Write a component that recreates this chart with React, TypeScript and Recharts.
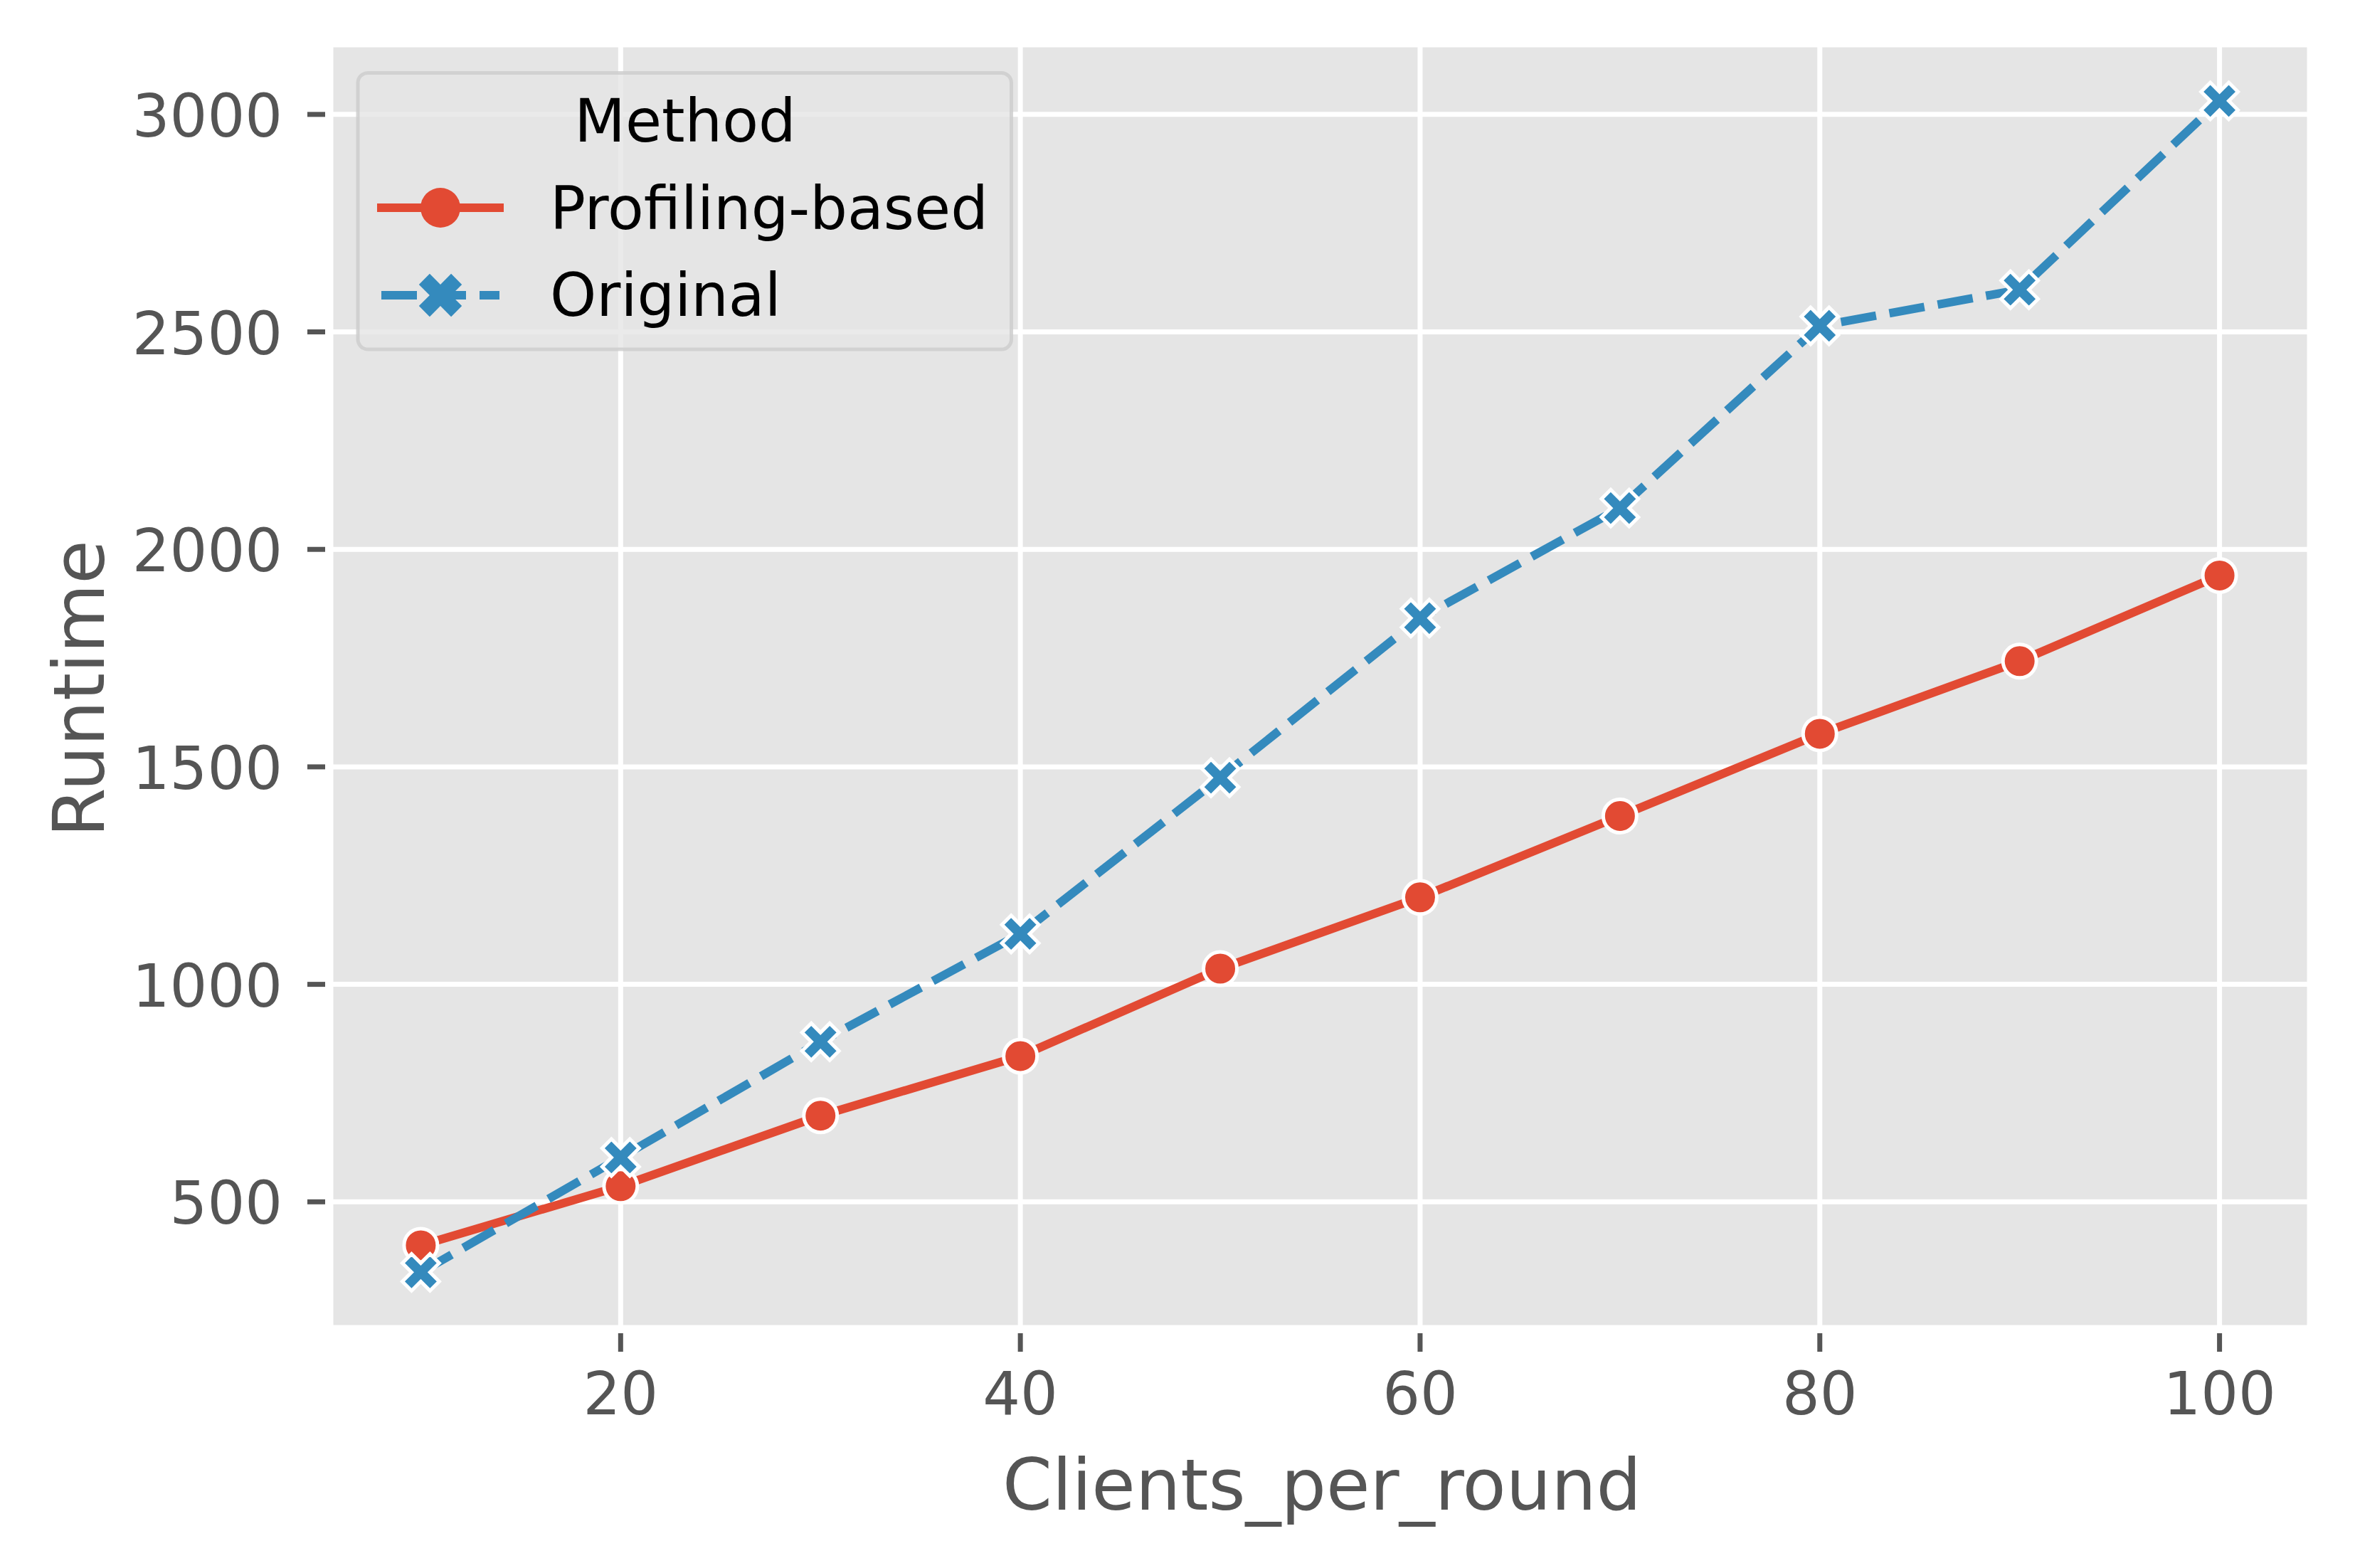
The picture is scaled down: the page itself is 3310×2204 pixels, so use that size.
import React from 'react';
import { LineChart, Line, XAxis, YAxis, CartesianGrid } from 'recharts';

const clientsPerRound = [10, 20, 30, 40, 50, 60, 70, 80, 90, 100];
const profilingBased = [400, 536, 698, 835, 1036, 1200, 1387, 1576, 1743, 1940];
const original = [338, 602, 868, 1116, 1475, 1842, 2095, 2514, 2597, 3031];
const xTicks = [20, 40, 60, 80, 100];
const yTicks = [500, 1000, 1500, 2000, 2500, 3000];
const seriesNames = ['Profiling-based', 'Original'];
const legendTitle = 'Method';

const RED = '#E24A33';
const BLUE = '#348ABD';
const FONT = '"DejaVu Sans", sans-serif';

const data = clientsPerRound.map((c, i) => ({
  x: c,
  profiling: profilingBased[i],
  original: original[i],
}));

function xMarkerPath(cx: number, cy: number, size: number): string {
  const pts = [
    [-1, -3], [1, -3], [1, -1], [3, -1], [3, 1], [1, 1],
    [1, 3], [-1, 3], [-1, 1], [-3, 1], [-3, -1], [-1, -1],
  ];
  const s = size / 6;
  const r = Math.SQRT1_2;
  return (
    pts
      .map(([px, py], i) => {
        const rx = (px - py) * r * s + cx;
        const ry = (px + py) * r * s + cy;
        return `${i === 0 ? 'M' : 'L'}${rx.toFixed(2)},${ry.toFixed(2)}`;
      })
      .join(' ') + ' Z'
  );
}

const CircleDot = (props: any) => {
  const { cx, cy, index } = props;
  if (cx == null || cy == null) return <g key={`c-${index}`} />;
  return (
    <circle key={`c-${index}`} cx={cx} cy={cy} r={23.5} fill={RED} stroke="#ffffff" strokeWidth={5} />
  );
};

const XDot = (props: any) => {
  const { cx, cy, index } = props;
  if (cx == null || cy == null) return <g key={`x-${index}`} />;
  return (
    <path
      key={`x-${index}`}
      d={xMarkerPath(cx, cy, 55)}
      fill={BLUE}
      stroke="#ffffff"
      strokeWidth={5}
      strokeLinejoin="miter"
    />
  );
};

const XTick = (props: any) => {
  const { x, y, payload } = props;
  return (
    <g>
      <line x1={x} x2={x} y1={y + 8} y2={y + 34} stroke="#555555" strokeWidth={7} />
      <text x={x} y={y + 122} textAnchor="middle" fontSize={83} fontFamily={FONT} fill="#555555">
        {payload.value}
      </text>
    </g>
  );
};

const YTick = (props: any) => {
  const { x, y, payload } = props;
  return (
    <g>
      <line x1={x - 33} x2={x - 8} y1={y} y2={y} stroke="#555555" strokeWidth={7} />
      <text x={x - 68} y={y + 31} textAnchor="end" fontSize={83} fontFamily={FONT} fill="#555555">
        {payload.value}
      </text>
    </g>
  );
};

const LegendOverlay = () => (
  <svg
    width={3310}
    height={2204}
    style={{ position: 'absolute', left: 0, top: 0, pointerEvents: 'none' }}
  >
    <rect
      x={503}
      y={102.5}
      width={918.5}
      height={388.5}
      rx={14}
      ry={14}
      fill="#E5E5E5"
      fillOpacity={0.8}
      stroke="#CCCCCC"
      strokeOpacity={0.8}
      strokeWidth={5}
    />
    <text x={963} y={199} textAnchor="middle" fontSize={83} fontFamily={FONT} fill="#000000">
      {legendTitle}
    </text>
    <line x1={530} x2={708} y1={292} y2={292} stroke={RED} strokeWidth={12} />
    <circle cx={619} cy={292} r={28} fill={RED} />
    <text x={773} y={322} fontSize={83} fontFamily={FONT} fill="#000000">
      {seriesNames[0]}
    </text>
    <line x1={536} x2={702} y1={415} y2={415} stroke={BLUE} strokeWidth={12} strokeDasharray="50 19" />
    <path d={xMarkerPath(619, 415, 64)} fill={BLUE} />
    <text x={773} y={444} fontSize={83} fontFamily={FONT} fill="#000000">
      {seriesNames[1]}
    </text>
  </svg>
);

export default function App() {
  return (
    <div style={{ position: 'absolute', left: 0, top: 0, width: 3310, height: 2204, background: '#ffffff' }}>
      <LineChart
        width={3310}
        height={2204}
        data={data}
        margin={{ top: 63, right: 64, bottom: 0, left: 0 }}
      >
        <CartesianGrid
          fill="#E5E5E5"
          fillOpacity={1}
          stroke="#ffffff"
          strokeWidth={7}
          horizontal={true}
          vertical={true}
        />
        <XAxis
          dataKey="x"
          type="number"
          domain={[5.5, 104.5]}
          ticks={xTicks}
          allowDataOverflow={true}
          axisLine={false}
          tickLine={false}
          tickSize={0}
          tickMargin={0}
          height={338}
          tick={<XTick />}
          interval={0}
        />
        <YAxis
          type="number"
          domain={[211, 3160]}
          ticks={yTicks}
          allowDataOverflow={true}
          axisLine={false}
          tickLine={false}
          tickSize={0}
          tickMargin={0}
          width={465}
          tick={<YTick />}
          interval={0}
        />
        <Line
          type="linear"
          dataKey="profiling"
          name={seriesNames[0]}
          stroke={RED}
          strokeWidth={12}
          strokeLinejoin="round"
          dot={CircleDot}
          activeDot={false}
          isAnimationActive={false}
        />
        <Line
          type="linear"
          dataKey="original"
          name={seriesNames[1]}
          stroke={BLUE}
          strokeWidth={12}
          strokeDasharray="50 19"
          strokeLinejoin="round"
          dot={XDot}
          activeDot={false}
          isAnimationActive={false}
        />
      </LineChart>
      <svg
        width={3310}
        height={2204}
        style={{ position: 'absolute', left: 0, top: 0, pointerEvents: 'none' }}
      >
        <text x={1858} y={2122} textAnchor="middle" fontSize={100} fontFamily={FONT} fill="#555555">
          Clients_per_round
        </text>
        <text
          x={146}
          y={968}
          textAnchor="middle"
          fontSize={100}
          fontFamily={FONT}
          fill="#555555"
          transform="rotate(-90 146 968)"
        >
          Runtime
        </text>
      </svg>
      <LegendOverlay />
    </div>
  );
}
